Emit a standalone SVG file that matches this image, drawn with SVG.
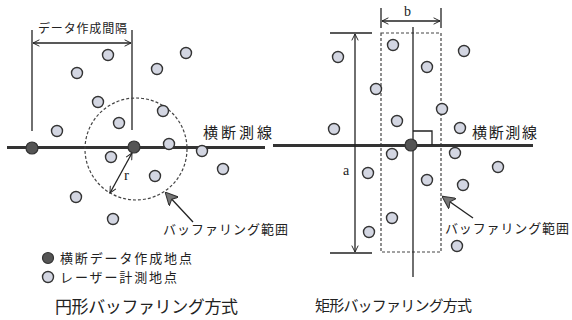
<svg xmlns="http://www.w3.org/2000/svg" width="572" height="320" viewBox="0 0 572 320">
<style>
.t{font-family:"Noto Sans CJK JP","Noto Sans",sans-serif;fill:#222}
.s{font-family:"Liberation Serif",serif;fill:#222}
.p{fill:#d3d6e2;stroke:#333;stroke-width:1.4}
.d{fill:#555;stroke:#333;stroke-width:1.2}
.ln{stroke:#222;stroke-width:1.3;fill:none}
.dash{stroke:#444;stroke-width:1.2;fill:none;stroke-dasharray:3 2}
.road{stroke:#333;stroke-width:3;fill:none}
</style>
<defs>
<marker id="open" viewBox="0 0 10 10" refX="9" refY="5" markerWidth="8" markerHeight="8" orient="auto-start-reverse" markerUnits="userSpaceOnUse">
<path d="M1,1 L9,5 L1,9" fill="none" stroke="#222" stroke-width="1.2"/>
</marker>
<marker id="fill" viewBox="0 0 10 10" refX="9" refY="5" markerWidth="13" markerHeight="13" orient="auto" markerUnits="userSpaceOnUse">
<path d="M10,5 L0,0 L2.5,5 L0,10 Z" fill="#777" stroke="#333" stroke-width="0.8"/>
</marker>
</defs>
<rect width="572" height="320" fill="#fff"/>

<g id="connectors">
<!-- left panel -->
<line class="ln" x1="32" y1="30" x2="32" y2="131"/>
<line class="ln" x1="132" y1="30" x2="132" y2="130"/>
<line class="ln" x1="33" y1="43" x2="131" y2="43" marker-start="url(#open)" marker-end="url(#open)"/>
<line class="road" x1="7" y1="147.5" x2="265" y2="147.5"/>
<circle class="dash" cx="136" cy="149" r="51"/>
<line class="ln" x1="132" y1="153" x2="110" y2="193" marker-start="url(#open)" marker-end="url(#open)"/>
<line class="ln" x1="193" y1="222" x2="166" y2="193" marker-end="url(#fill)"/>
<!-- right panel -->
<line class="ln" x1="381" y1="8" x2="381" y2="28"/>
<line class="ln" x1="441" y1="8" x2="441" y2="28"/>
<line class="ln" x1="382" y1="21" x2="440" y2="21" marker-start="url(#open)" marker-end="url(#open)"/>
<rect class="dash" x="381" y="33" width="60" height="219"/>
<line class="ln" x1="413" y1="27" x2="413" y2="277"/>
<line class="road" x1="273" y1="145.5" x2="533" y2="145.5"/>
<polyline class="ln" points="413,131 432,131 432,145"/>
<line class="ln" x1="330" y1="33" x2="372" y2="33"/>
<line class="ln" x1="330" y1="253" x2="372" y2="253"/>
<line class="ln" x1="355" y1="34" x2="355" y2="252" marker-start="url(#open)" marker-end="url(#open)"/>
<line class="ln" x1="473" y1="218" x2="443" y2="197" marker-end="url(#fill)"/>
</g>

<g id="left-points">
<circle class="p" cx="108" cy="55" r="5.5"/>
<circle class="p" cx="186" cy="53" r="5.5"/>
<circle class="p" cx="77" cy="73" r="5.5"/>
<circle class="p" cx="157" cy="69" r="5.5"/>
<circle class="p" cx="98" cy="102" r="5.5"/>
<circle class="p" cx="163" cy="111" r="5.5"/>
<circle class="p" cx="119" cy="123" r="5.5"/>
<circle class="p" cx="57" cy="131" r="5.5"/>
<circle class="p" cx="169" cy="144" r="5.5"/>
<circle class="p" cx="202" cy="151" r="5.5"/>
<circle class="p" cx="111" cy="157" r="5.5"/>
<circle class="p" cx="155" cy="176" r="5.5"/>
<circle class="p" cx="223" cy="169" r="5.5"/>
<circle class="p" cx="76" cy="197" r="5.5"/>
<circle class="p" cx="113" cy="219" r="5.5"/>
<circle class="d" cx="32" cy="148" r="6"/>
<circle class="d" cx="134" cy="147" r="6"/>
</g>

<g id="right-points">
<circle class="p" cx="393" cy="45" r="5.5"/>
<circle class="p" cx="464" cy="51" r="5.5"/>
<circle class="p" cx="338" cy="57" r="5.5"/>
<circle class="p" cx="427" cy="67" r="5.5"/>
<circle class="p" cx="376" cy="89" r="5.5"/>
<circle class="p" cx="442" cy="109" r="5.5"/>
<circle class="p" cx="397" cy="121" r="5.5"/>
<circle class="p" cx="334" cy="129" r="5.5"/>
<circle class="p" cx="460" cy="128" r="5.5"/>
<circle class="p" cx="392" cy="154" r="5.5"/>
<circle class="p" cx="455" cy="153" r="5.5"/>
<circle class="p" cx="368" cy="173" r="5.5"/>
<circle class="p" cx="427" cy="180" r="5.5"/>
<circle class="p" cx="463" cy="185" r="5.5"/>
<circle class="p" cx="498" cy="167" r="5.5"/>
<circle class="p" cx="392" cy="218" r="5.5"/>
<circle class="p" cx="369" cy="232" r="5.5"/>
<circle class="p" cx="457" cy="246" r="5.5"/>
<circle class="d" cx="411" cy="145" r="6"/>
</g>

<g id="labels">
<text class="t" x="38" y="33" font-size="12" textLength="89">データ作成間隔</text>
<text class="t" x="203" y="138" font-size="15" textLength="69">横断測線</text>
<text class="s" x="124" y="180" font-size="15">r</text>
<text class="t" x="163" y="234" font-size="13" textLength="125">バッファリング範囲</text>
<text class="s" x="404" y="16" font-size="14">b</text>
<text class="s" x="343" y="175" font-size="14">a</text>
<text class="t" x="472" y="138" font-size="15" textLength="65">横断測線</text>
<text class="t" x="445" y="233" font-size="13" textLength="124">バッファリング範囲</text>
</g>

<g id="legend">
<circle class="d" cx="48" cy="258" r="5.5"/>
<text class="t" x="60" y="263" font-size="13" textLength="132">横断データ作成地点</text>
<circle class="p" cx="48" cy="277" r="5.5"/>
<text class="t" x="60" y="282" font-size="13" textLength="117">レーザー計測地点</text>
</g>

<g id="titles">
<text class="t" x="55" y="313" font-size="17" textLength="183">円形バッファリング方式</text>
<text class="t" x="315" y="311" font-size="15" textLength="157">矩形バッファリング方式</text>
</g>
</svg>
